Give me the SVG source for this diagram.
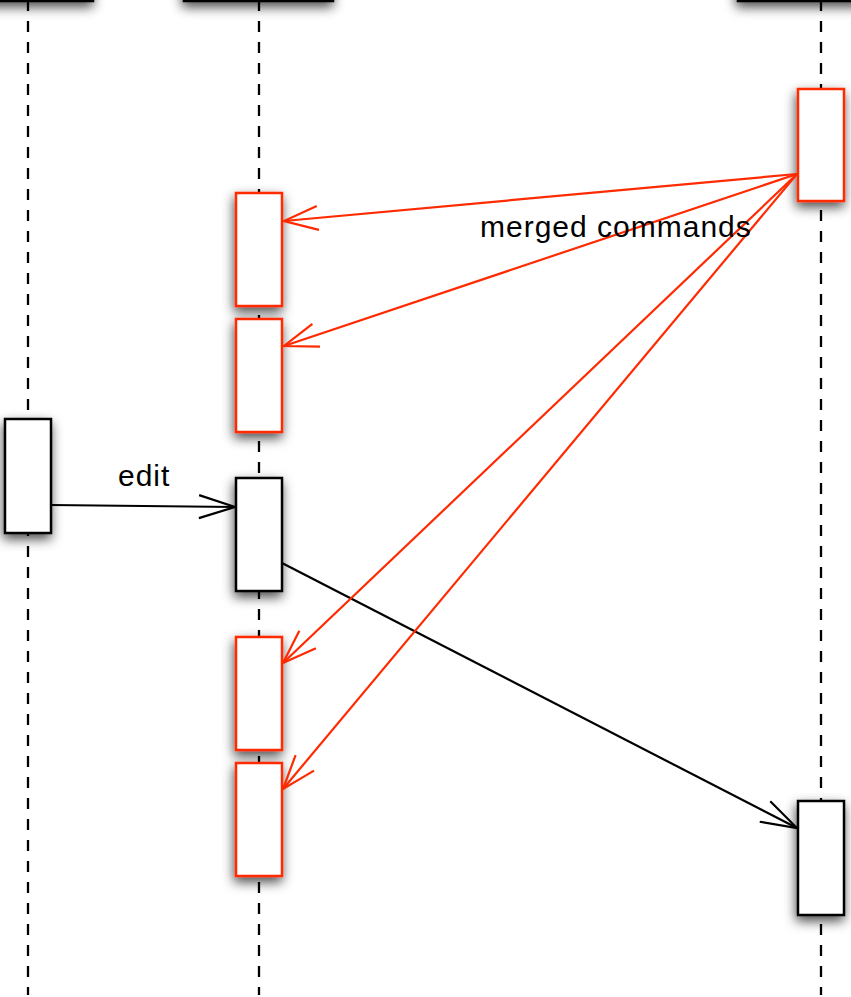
<svg xmlns="http://www.w3.org/2000/svg" width="851" height="997" viewBox="0 0 851 997">
  <defs>
    <filter id="sh" x="-60%" y="-40%" width="220%" height="180%">
      <feDropShadow dx="-1" dy="5" stdDeviation="6" flood-color="#000" flood-opacity="0.7"/>
    </filter>
    <marker id="ab" markerUnits="userSpaceOnUse" markerWidth="40" markerHeight="30" viewBox="-38 -15 40 30" refX="0" refY="0" orient="auto">
      <path d="M-36,-11.5 L0,0 L-36,11.5" fill="none" stroke="#000" stroke-width="2.2"/>
    </marker>
    <marker id="ar" markerUnits="userSpaceOnUse" markerWidth="40" markerHeight="30" viewBox="-38 -15 40 30" refX="0" refY="0" orient="auto">
      <path d="M-34,-12 L0,0 L-34,12" fill="none" stroke="#ff2a00" stroke-width="2.2"/>
    </marker>
  </defs>
  <style>
    .life { stroke: #000; stroke-width: 2.3; stroke-dasharray: 11 10; fill: none; }
    .head { fill: #fff; stroke: #000; stroke-width: 2.5; filter: url(#sh); }
    .act { fill: #fff; stroke: #000; stroke-width: 2.5; filter: url(#sh); }
    .actr { fill: #fff; stroke: #ff2a00; stroke-width: 2.5; filter: url(#sh); }
    .cb { stroke: #000; stroke-width: 2.2; fill: none; marker-end: url(#ab); }
    .cr { stroke: #ff2a00; stroke-width: 2.2; fill: none; marker-end: url(#ar); }
    .lbl { font-family: "Liberation Sans", Arial, sans-serif; font-size: 30px; fill: #000; letter-spacing: 1px; }
  </style>
  <rect width="851" height="997" fill="#fff"/>
  <g id="heads">
    <rect class="head" x="-20" y="-60" width="113" height="61"/>
    <rect class="head" x="184" y="-60" width="149" height="61"/>
    <rect class="head" x="738" y="-60" width="133" height="61"/>
  </g>
  <g id="lifelines">
    <line class="life" x1="28" y1="0" x2="28" y2="995"/>
    <line class="life" x1="259" y1="0" x2="259" y2="995"/>
    <line class="life" x1="821" y1="0" x2="821" y2="995"/>
  </g>
  <g id="a_left"><rect class="act" x="5" y="419" width="46" height="114"/></g>
  <g id="a_mid_edit"><rect class="act" x="236" y="478" width="46" height="113"/></g>
  <g id="r_mid1"><rect class="actr" x="236" y="193" width="46" height="113"/></g>
  <g id="r_mid2"><rect class="actr" x="236" y="319" width="46" height="113"/></g>
  <g id="r_mid3"><rect class="actr" x="236" y="637" width="46" height="113"/></g>
  <g id="r_mid4"><rect class="actr" x="236" y="763" width="46" height="113"/></g>
  <g id="r_right"><rect class="actr" x="798" y="89" width="46" height="112"/></g>
  <g id="a_right"><rect class="act" x="798" y="801" width="46" height="114"/></g>
  <g id="connectors">
    <line class="cb" x1="51" y1="505" x2="235" y2="507"/>
    <line class="cb" x1="282" y1="563" x2="797" y2="828"/>
    <line class="cr" x1="797" y1="174" x2="284" y2="221"/>
    <line class="cr" x1="797" y1="174" x2="284" y2="346"/>
    <line class="cr" x1="797" y1="174" x2="283" y2="663"/>
    <line class="cr" x1="797" y1="174" x2="283" y2="789"/>
  </g>
  <g id="labels">
    <text class="lbl" x="118" y="486">edit</text>
    <text class="lbl" x="480" y="237">merged commands</text>
  </g>
</svg>
